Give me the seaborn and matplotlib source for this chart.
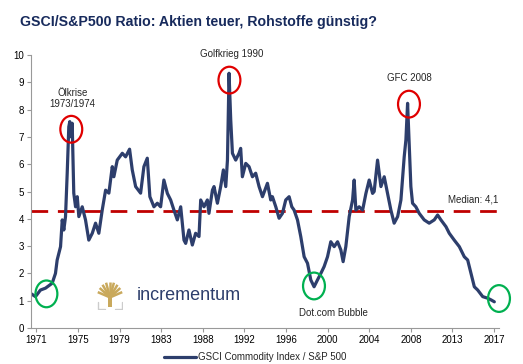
import matplotlib
matplotlib.use('Agg')
from matplotlib import pyplot as plt
from matplotlib.patches import Ellipse, Rectangle
import seaborn as sns
import pandas as pd
import numpy as np

# GSCI / S&P500 ratio (decimal years)
years = [1970.40, 1970.90, 1971.40, 1971.91, 1972.58, 1972.91, 1973.08, 1973.42, 1973.59, 1973.75,
         1973.92, 1974.09, 1974.25, 1974.35, 1974.49, 1974.59, 1974.75, 1974.93, 1975.10, 1975.26,
         1975.60, 1975.93, 1976.26, 1976.61, 1976.94, 1977.27, 1977.61, 1977.95, 1978.28, 1978.62,
         1978.78, 1979.12, 1979.63, 1979.96, 1980.36, 1980.63, 1980.97, 1981.47, 1981.80, 1982.14,
         1982.40, 1982.81, 1983.15, 1983.48, 1983.81, 1984.16, 1984.49, 1984.82, 1985.16, 1985.50,
         1985.83, 1986.00, 1986.33, 1986.67, 1987.00, 1987.34, 1987.51, 1987.84, 1988.18, 1988.34,
         1988.69, 1988.85, 1989.19, 1989.52, 1989.79, 1990.03, 1990.20, 1990.36, 1990.53, 1990.70,
         1991.03, 1991.36, 1991.53, 1991.70, 1992.04, 1992.37, 1992.71, 1993.04, 1993.38, 1993.72,
         1994.22, 1994.55, 1994.72, 1995.06, 1995.39, 1995.73, 1996.06, 1996.40, 1996.67, 1996.90,
         1997.24, 1997.57, 1997.91, 1998.25, 1998.58, 1998.91, 1999.25, 1999.59, 1999.92, 2000.26,
         2000.59, 2000.93, 2001.27, 2001.60, 2001.83, 2002.10, 2002.44, 2002.78, 2002.94, 2003.11,
         2003.44, 2003.79, 2004.12, 2004.45, 2004.79, 2004.95, 2005.29, 2005.63, 2005.96, 2006.30,
         2006.63, 2006.96, 2007.31, 2007.64, 2007.97, 2008.14, 2008.31, 2008.48, 2008.64, 2008.81,
         2009.14, 2009.48, 2009.98, 2010.48, 2010.99, 2011.33, 2011.66, 2012.17, 2012.50, 2013.00,
         2013.51, 2014.01, 2014.35, 2014.69, 2015.02, 2015.36, 2015.86, 2016.37, 2016.70, 2017.03]
ratio = [1.27, 1.15, 1.39, 1.46, 1.64, 2.00, 2.49, 2.98, 3.96, 3.59,
         4.08, 5.67, 7.37, 7.56, 7.00, 7.50, 4.94, 4.44, 4.81, 4.08,
         4.44, 3.96, 3.22, 3.47, 3.84, 3.47, 4.32, 5.05, 4.94, 5.91,
         5.54, 6.15, 6.40, 6.27, 6.55, 5.79, 5.18, 4.94, 5.91, 6.22,
         4.81, 4.44, 4.57, 4.44, 5.42, 4.93, 4.69, 4.32, 3.96, 4.44,
         3.22, 3.10, 3.59, 3.04, 3.47, 3.35, 4.69, 4.44, 4.69, 4.20,
         5.05, 5.18, 4.57, 5.18, 5.79, 5.18, 6.15, 9.33, 7.62, 6.40,
         6.15, 6.40, 6.58, 5.54, 6.03, 5.91, 5.54, 5.67, 5.18, 4.81,
         5.30, 4.69, 4.81, 4.44, 4.02, 4.20, 4.69, 4.81, 4.44, 4.32,
         3.96, 3.35, 2.61, 2.37, 1.76, 1.51, 1.76, 2.00, 2.25, 2.61,
         3.16, 2.98, 3.16, 2.86, 2.43, 2.98, 4.08, 4.69, 5.42, 4.32,
         4.44, 4.32, 4.93, 5.42, 4.93, 5.00, 6.15, 5.18, 5.54, 4.93,
         4.32, 3.84, 4.08, 4.69, 6.27, 6.89, 8.23, 6.64, 5.18, 4.57,
         4.44, 4.20, 3.96, 3.84, 3.96, 4.14, 3.96, 3.71, 3.47, 3.22,
         2.98, 2.61, 2.49, 2.00, 1.51, 1.39, 1.15, 1.09, 1.03, 0.96]
median_level = 4.3
tick_labels = ['1971', '1975', '1979', '1983', '1988', '1992',
               '1996', '2000', '2004', '2008', '2013', '2017']
series_name = 'GSCI Commodity Index / S&P 500'

df = pd.DataFrame({'Jahr': years, 'Ratio': ratio, 'Serie': series_name})

sns.set_theme(style='white')
plt.rcParams['font.family'] = ['Liberation Sans', 'DejaVu Sans']

navy = '#2D3E6C'
fig = plt.figure(figsize=(5.23, 3.64), dpi=100)
ax = fig.add_axes([31 / 523, 36 / 364, 468 / 523, 273 / 364])

sns.lineplot(data=df, x='Jahr', y='Ratio', hue='Serie', palette=[navy],
             linewidth=2.3, ax=ax)
ax.axhline(median_level, color='#C00000', lw=2, dashes=(6, 3.5), zorder=1)

ax.set_xlim(1970.45, 2017.5)
ax.set_ylim(0, 10)
ax.set_xticks(np.linspace(1971, 2017, 12))
ax.set_xticklabels(tick_labels)
ax.set_yticks(range(0, 11))
ax.set_xlabel('')
ax.set_ylabel('')
ax.tick_params(axis='both', labelsize=7, labelcolor='black', color='#999999',
               length=3, width=0.8, direction='out', pad=2)
for s in ['top', 'right']:
    ax.spines[s].set_visible(False)
for s in ['left', 'bottom']:
    ax.spines[s].set_color('#999999')
    ax.spines[s].set_linewidth(0.8)
ax.xaxis.set_ticks_position('bottom')
ax.yaxis.set_ticks_position('left')

# highlight circles
for cx, cy, col in [(1974.5, 7.28, '#E00000'), (1990.4, 9.08, '#E00000'),
                    (2008.45, 8.2, '#E00000'), (1972.0, 1.25, '#00B050'),
                    (1998.9, 1.54, '#00B050'), (2017.5, 1.08, '#00B050')]:
    ax.add_patch(Ellipse((cx, cy), 2.2, 0.98, fill=False, edgecolor=col,
                         lw=1.6, clip_on=False, zorder=4))

fs = 7
ax.text(1974.6, 8.4, 'Ölkrise\n1973/1974', ha='center', va='center',
        fontsize=fs, linespacing=1.05)
ax.text(1990.6, 10.05, 'Golfkrieg 1990', ha='center', va='center', fontsize=fs)
ax.text(2008.5, 9.15, 'GFC 2008', ha='center', va='center', fontsize=fs)
ax.text(2014.9, 4.69, 'Median: 4,1', ha='center', va='center', fontsize=fs)
ax.text(2000.9, 0.54, 'Dot.com Bubble', ha='center', va='center', fontsize=fs)

ax.legend(loc='upper center', bbox_to_anchor=(0.48, -0.075), frameon=False,
          fontsize=7, handlelength=3.2, handletextpad=0.3, borderaxespad=0)

fig.text(20 / 523, 1 - 22 / 364, 'GSCI/S&P500 Ratio: Aktien teuer, Rohstoffe günstig?',
         fontsize=10.2, fontweight='bold', color='#172A5C', va='center', ha='left')

# incrementum logo
fig.text(137 / 523, 1 - 296 / 364, 'incrementum', fontsize=13, color=navy,
         va='center', ha='left', fontweight='medium')
lax = fig.add_axes([97 / 523, 54 / 364, 26 / 523, 28 / 364])
lax.set_xlim(0, 1)
lax.set_ylim(0, 1)
lax.axis('off')
gold = '#C9A95C'
lax.add_patch(Rectangle((0.42, 0.12), 0.16, 0.45, color=gold, lw=0))
for ang in np.linspace(20, 160, 9):
    r = np.radians(ang)
    lax.plot([0.5, 0.5 + 0.5 * np.cos(r)], [0.45, 0.45 + 0.55 * np.sin(r)],
             color=gold, lw=1.8, solid_capstyle='butt')
lax.plot([0.02, 0.02, 0.3], [0.3, 0.02, 0.02], color='#CCCCCC', lw=1)
lax.plot([0.98, 0.98, 0.7], [0.3, 0.02, 0.02], color='#CCCCCC', lw=1)

fig.savefig('out.png', dpi=100)
